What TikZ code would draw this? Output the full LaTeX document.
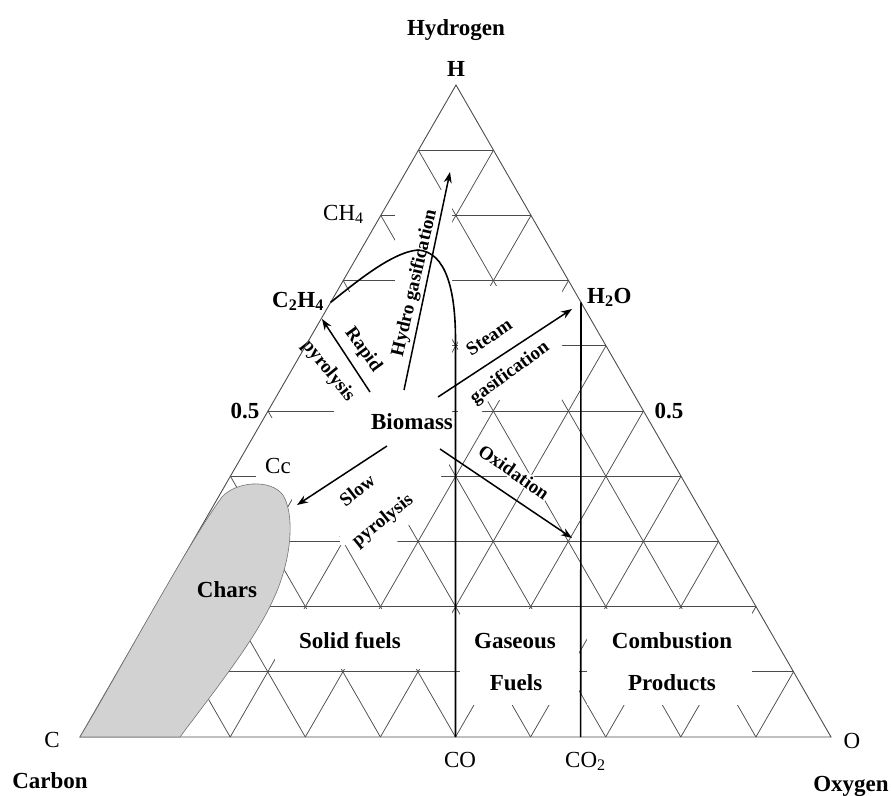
\documentclass[tikz,border=0pt]{standalone}
\usepackage{fontspec}
\setmainfont{Liberation Serif}
\usetikzlibrary{calc,arrows.meta}

\tikzset{
  gridline/.style={black!70, line width=0.75pt},
  phaseline/.style={black, line width=1.6pt},
  blank/.style={fill=white, draw=none},
  lbl/.style={font=\fontsize{23}{25}\selectfont\bfseries, inner sep=0pt},
  plainlbl/.style={font=\fontsize{23}{25}\selectfont, inner sep=0pt},
  routelbl/.style={font=\fontsize{19}{21}\selectfont\bfseries, inner sep=1pt, fill=white},
  route/.style={black, line width=1.5pt, -{Stealth[length=11pt,width=8pt]}},
}

\begin{document}
\begin{tikzpicture}[x=1pt, y=-1pt]
  \useasboundingbox (0,0) rectangle (891,795);
  \coordinate (C) at (80,737);
  \coordinate (O) at (831,737);
  \coordinate (H) at (456,85);
  \coordinate (C2H4) at ($(C)!2/3!(H)$);
  \coordinate (H2O) at ($(O)!2/3!(H)$);
  \coordinate (CO) at ($(C)!0.5!(O)$);
  \coordinate (CO2) at ($(C)!2/3!(O)$);
  \coordinate (bend) at (0,340);

  % grid of the diagram
  \foreach \k in {1,...,9}{
    \pgfmathsetmacro{\fr}{\k/10}
    \pgfmathsetmacro{\rest}{1-\k/10}
    \draw[gridline] ($(C)!\fr!(H)$) -- ($(O)!\fr!(H)$);
    \draw[gridline] ($(C)!\fr!(O)$) -- ($(C)!\fr!(H)$);
    \draw[gridline] ($(C)!\fr!(O)$) -- ($(O)!\rest!(H)$);
  }

  % blank areas behind the texts
  \fill[blank] (395,190) -- (452,190) -- (452,460) -- (395,545) -- (340,545) -- (340,536)
    -- (292,536) -- (292,482) -- (256,482) -- (256,418) -- (334,418) -- (334,400)
    -- (280,400) -- (280,292) -- (395,292) -- cycle;
  \fill[blank] (458,286) -- (562,286) -- (562,400) -- (482,400) -- (482,416) -- (458,416) -- cycle;
  \fill[blank] (275,609) rectangle (452,669);
  \fill[blank] (460,609) rectangle (579,705);
  \fill[blank] (587,609) rectangle (752,705);

  \node[routelbl, rotate=-54] (rapid) at (363,350) {Rapid};
  \node[routelbl, rotate=-51] (rapidpyro) at (328,371) {pyrolysis};
  \node[routelbl, rotate=77] (hydro) at (415,283) {Hydro gasification};
  \node[routelbl, rotate=34] (steam) at (489,337) {Steam};
  \node[routelbl, rotate=36] (steamgas) at (510,373) {gasification};
  \node[routelbl, rotate=38] (slow) at (357,490) {Slow};
  \node[routelbl, rotate=39] (slowpyro) at (383,521) {pyrolysis};
  \node[routelbl, rotate=-35] (oxid) at (514,472) {Oxidation};

  \draw[gridline, line width=0.9pt] (C) -- (H) -- (O) -- cycle;
  \draw[phaseline] (C2H4) .. controls (355,283) and (392,252) .. (418,250)
    .. controls (446,252) and (CO |- 0,290) .. (CO |- bend) -- (CO);
  \draw[phaseline] (H2O) -- (CO2);

  \draw[black!55, fill=gray!35, line width=0.6pt] (C) .. controls (120,670) and (190,540) .. (222,497)
    .. controls (235,482) and (270,478) .. (283,495)
    .. controls (295,515) and (292,560) .. (273,600)
    .. controls (255,640) and (215,690) .. (180,737) -- cycle;

  \coordinate (rp0) at (370,392); \coordinate (rp1) at (322,319);
  \coordinate (hg0) at (404,390); \coordinate (hg1) at (450,172);
  \coordinate (sg0) at (438,397); \coordinate (sg1) at (572,309);
  \coordinate (sp0) at (387,446); \coordinate (sp1) at (297,505);
  \coordinate (ox0) at (440,449); \coordinate (ox1) at (572,538);
  \draw[route] (rp0) -- (rp1);
  \draw[route] (hg0) -- (hg1);
  \draw[route] (sg0) -- (sg1);
  \draw[route] (sp0) -- (sp1);
  \draw[route] (ox0) -- (ox1);

  \node[lbl, anchor=base] (hydrogen) at (456,35) {Hydrogen};
  \node[lbl, anchor=base] (hlbl) at (456,76) {H};
  \node[plainlbl, anchor=base west] (ch4) at (323,220) {CH\textsubscript{4}};
  \node[lbl, anchor=base west] (c2h4) at (272,307) {C\textsubscript{2}H\textsubscript{4}};
  \node[lbl, anchor=base west] (h2o) at (587,303) {H\textsubscript{2}O};
  \node[lbl, anchor=base] (halfl) at (245,418) {0.5};
  \node[lbl, anchor=base] (halfr) at (669,418) {0.5};
  \node[plainlbl, anchor=base] (cc) at (278,473) {Cc};
  \node[lbl, anchor=base] (biomass) at (412,429) {Biomass};
  \node[lbl, anchor=base] (chars) at (227,597) {Chars};
  \node[lbl, anchor=base] (solid) at (350,648) {Solid fuels};
  \node[lbl, anchor=base] (gaseous) at (515,648) {Gaseous};
  \node[lbl, anchor=base] (fuels) at (516,690) {Fuels};
  \node[lbl, anchor=base] (combustion) at (672,648) {Combustion};
  \node[lbl, anchor=base] (products) at (672,690) {Products};
  \node[plainlbl, anchor=base] (clbl) at (52,747) {C};
  \node[lbl, anchor=base] (carbon) at (50,788) {Carbon};
  \node[plainlbl, anchor=base] (colbl) at (460,767) {CO};
  \node[plainlbl, anchor=base west] (co2lbl) at (565,767) {CO\textsubscript{2}};
  \node[plainlbl, anchor=base] (olbl) at (852,748) {O};
  \node[lbl, anchor=base] (oxygen) at (851,791) {Oxygen};
\end{tikzpicture}
\end{document}
